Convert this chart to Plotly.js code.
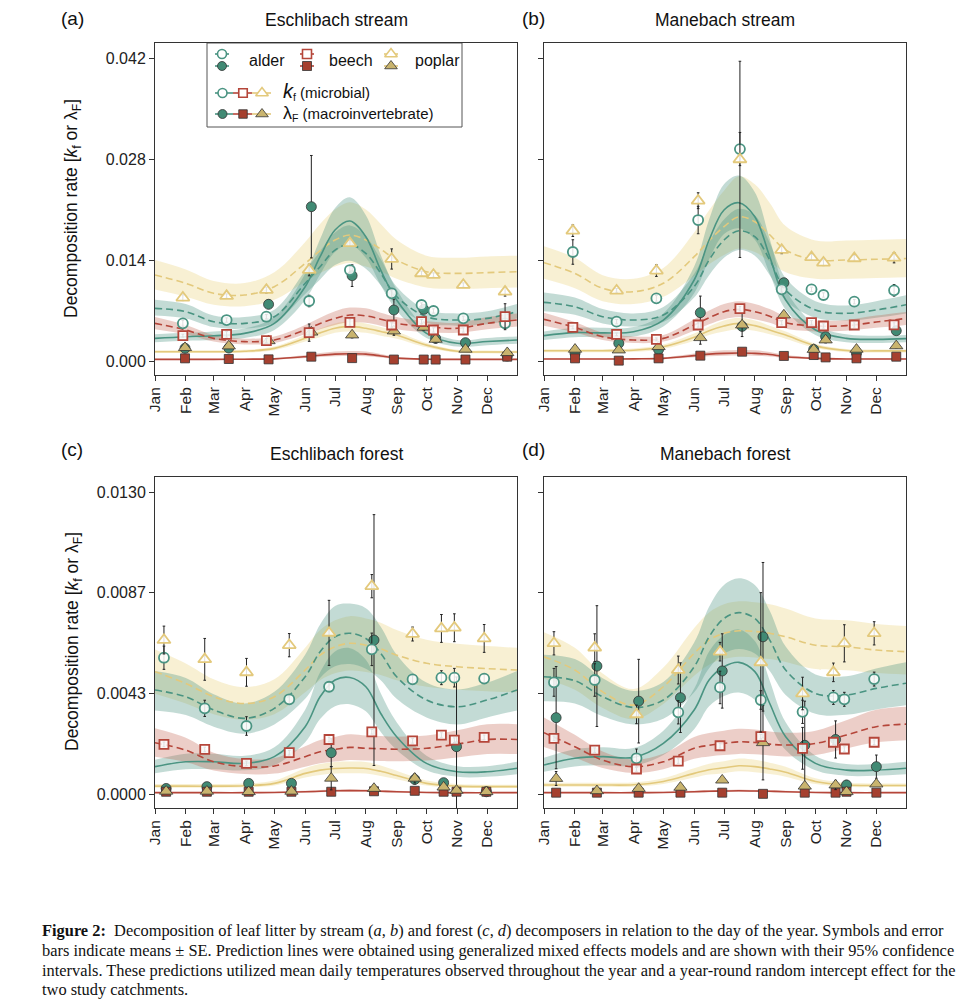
<!DOCTYPE html>
<html><head><meta charset="utf-8">
<script src="https://cdn.plot.ly/plotly-3.0.1.min.js"></script>
<style>html,body{margin:0;padding:0;background:#fff}#chart{width:967px;height:1000px}</style>
</head><body><div id="chart"></div>
<script>
// ---------- axis labels ----------
const MONTH_LABELS = ['Jan','Feb','Mar','Apr','May','Jun','Jul','Aug','Sep','Oct','Nov','Dec'];
const MONTH_DAYS = [1,32,60,91,121,152,182,213,244,274,305,335];
const STREAM_TICKS = [0,0.014,0.028,0.042];
const STREAM_TICK_TEXT = ['0.000','0.014','0.028','0.042'];
const FOREST_TICKS = [0,0.0043333,0.0086667,0.013];
const FOREST_TICK_TEXT = ['0.0000','0.0043','0.0087','0.0130'];
const PANEL_TITLES = ['Eschlibach stream','Manebach stream','Eschlibach forest','Manebach forest'];
const PANEL_TAGS = ['(a)','(b)','(c)','(d)'];

// ---------- prediction curve sample days ----------
const CURVE_DAYS = [1,32,60,91,121,152,167,182,197,213,228,244,274,305,335,365];

// ================= Panel (a) Eschlibach stream =================
const A_DAYS = [30,74,114,157,198,240,270,282,312,354];
const A_ALDER_KF = [0.00522,0.00568,0.00614,0.00832,0.01261,0.00938,0.00776,0.00693,0.00591,0.00522];
const A_ALDER_KF_SE = [0.0004,0.0003,0.0003,0.0008,0.0005,0.0005,0.0003,0.0003,0.0003,0.0004];
const A_ALDER_LF = [0.00176,0.0018,0.00786,0.02139,0.01183,0.00707,0.00716,0.00314,0.00254,0.00069];
const A_ALDER_LF_SE = [0.0003,0.0003,0.0006,0.0071,0.0015,0.0015,0.0004,0.0005,0.0003,0.0002];
const A_BEECH_KF = [0.00351,0.0037,0.00282,0.00393,0.00536,0.00499,0.00545,0.0043,0.0043,0.00614];
const A_BEECH_KF_SE = [0.0002,0.0004,0.0003,0.0012,0.0004,0.0003,0.0003,0.0003,0.0003,0.0018];
const A_BEECH_LF = [0.00037,0.00028,0.00023,0.0006,0.0004,0.0002,0.0002,0.0002,0.0002,0.0006];
const A_BEECH_LF_SE = [0.0001,0.0001,0.0001,0.0001,0.0001,0.0001,0.0001,0.0001,0.0001,0.0001];
const A_POPLAR_KF = [0.00878,0.009,0.00984,0.01261,0.01631,0.01414,0.01215,0.01192,0.01053,0.0096];
const A_POPLAR_KF_SE = [0.0004,0.0003,0.0004,0.0008,0.0004,0.0014,0.0003,0.0003,0.0003,0.0006];
const A_POPLAR_LF = [0.00185,0.00208,0.0028,0.004,0.0036,0.00416,0.00467,0.003,0.00162,0.00115];
const A_POPLAR_LF_SE = [0.0003,0.0003,0.0003,0.0006,0.0004,0.0006,0.0004,0.0005,0.0003,0.0003];

const A_FIT_ALDER_KF = [0.0073,0.00684,0.00545,0.00522,0.00614,0.01077,0.01307,0.01538,0.01617,0.01492,0.01215,0.00892,0.00614,0.00568,0.00591,0.00684];
const A_LO_ALDER_KF = [0.0063,0.0059,0.0047,0.0045,0.0053,0.0093,0.0113,0.0133,0.0139,0.0128,0.0105,0.0077,0.0053,0.0049,0.0051,0.0059];
const A_HI_ALDER_KF = [0.0085,0.0079,0.0063,0.0061,0.0071,0.0125,0.0152,0.0178,0.0188,0.0173,0.0141,0.0103,0.0071,0.0066,0.0069,0.0079];
const A_FIT_ALDER_LF = [0.00314,0.00337,0.0035,0.00383,0.00522,0.0103,0.01446,0.01816,0.0194,0.01723,0.0126,0.00845,0.00383,0.00245,0.0027,0.00291];
const A_LO_ALDER_LF = [0.0026,0.0028,0.0029,0.0032,0.0043,0.0085,0.012,0.0151,0.0161,0.0143,0.0105,0.007,0.0032,0.002,0.0022,0.0024];
const A_HI_ALDER_LF = [0.0037,0.0039,0.0041,0.0045,0.0061,0.0121,0.0169,0.0212,0.0227,0.0202,0.0147,0.0099,0.0045,0.0029,0.0032,0.0034];
const A_FIT_BEECH_KF = [0.00522,0.0043,0.00314,0.00268,0.00291,0.0043,0.0052,0.00591,0.00637,0.00625,0.0058,0.00522,0.00476,0.00453,0.00522,0.00568];
const A_LO_BEECH_KF = [0.0044,0.0037,0.0027,0.0023,0.0025,0.0037,0.0044,0.005,0.0054,0.0053,0.0049,0.0044,0.004,0.0039,0.0044,0.0048];
const A_HI_BEECH_KF = [0.0061,0.005,0.0036,0.0031,0.0034,0.005,0.006,0.0069,0.0074,0.0073,0.0067,0.0061,0.0055,0.0053,0.0061,0.0066];
const A_FIT_BEECH_LF = [0.00023,0.00023,0.00023,0.00025,0.0003,0.0006,0.0008,0.00095,0.001,0.00095,0.0007,0.0004,0.00025,0.00023,0.00023,0.00023];
const A_LO_BEECH_LF = [0.00016,0.00016,0.00016,0.00018,0.00021,0.00042,0.00056,0.00067,0.0007,0.00067,0.00049,0.00028,0.00018,0.00016,0.00016,0.00016];
const A_HI_BEECH_LF = [0.00032,0.00032,0.00032,0.00035,0.00042,0.00084,0.00112,0.00133,0.0014,0.00133,0.00098,0.00056,0.00035,0.00032,0.00032,0.00032];
const A_FIT_POPLAR_KF = [0.01192,0.01077,0.00938,0.00915,0.0103,0.01354,0.0153,0.01677,0.01746,0.01677,0.0155,0.014,0.01238,0.01215,0.01225,0.01238];
const A_LO_POPLAR_KF = [0.0099,0.0089,0.0078,0.0076,0.0085,0.011,0.0122,0.0131,0.0136,0.0131,0.0124,0.0114,0.0102,0.01,0.0101,0.0102];
const A_HI_POPLAR_KF = [0.014,0.0127,0.0111,0.0108,0.0123,0.0165,0.019,0.021,0.022,0.021,0.019,0.0168,0.0146,0.0143,0.0145,0.0146];
const A_FIT_POPLAR_LF = [0.00129,0.00129,0.00129,0.00135,0.00175,0.00314,0.0039,0.00453,0.0048,0.00453,0.0041,0.0036,0.0022,0.00135,0.00125,0.00125];
const A_LO_POPLAR_LF = [0.0011,0.0011,0.0011,0.00115,0.0015,0.0027,0.0033,0.0039,0.0041,0.0039,0.0035,0.0031,0.0019,0.00115,0.00106,0.00106];
const A_HI_POPLAR_LF = [0.0015,0.0015,0.0015,0.00155,0.002,0.0036,0.0045,0.0052,0.0055,0.0052,0.0047,0.0041,0.0025,0.00155,0.00144,0.00144];

// ================= Panel (b) Manebach stream =================
const B_DAYS = [31,75,115,157,199,241,271,283,314,354];
const B_ALDER_KF = [0.01511,0.00545,0.00869,0.01954,0.02938,0.00993,0.00993,0.00915,0.00822,0.0098];
const B_ALDER_KF_SE = [0.0017,0.0003,0.0004,0.0019,0.0023,0.0004,0.0003,0.0003,0.0003,0.0008];
const B_ALDER_LF = [0.00106,0.00245,0.0016,0.0067,0.0048,0.01085,0.0016,0.00337,0.0011,0.0042];
const B_ALDER_LF_SE = [0.0002,0.0003,0.0003,0.0023,0.0005,0.0005,0.0003,0.0004,0.0002,0.0003];
const B_BEECH_KF = [0.00467,0.0037,0.003,0.00499,0.00725,0.00531,0.00531,0.00485,0.00499,0.005];
const B_BEECH_KF_SE = [0.0002,0.0002,0.0002,0.0003,0.0003,0.0003,0.0003,0.0003,0.0003,0.0003];
const B_BEECH_LF = [0.00037,0.00005,0.00037,0.00074,0.00129,0.0007,0.00083,0.0005,0.00037,0.0006];
const B_BEECH_LF_SE = [0.0001,0.0001,0.0001,0.0001,0.0002,0.0001,0.0001,0.0001,0.0001,0.0001];
const B_POPLAR_KF = [0.01806,0.00975,0.01252,0.02222,0.02795,0.01538,0.01437,0.01363,0.01423,0.0143];
const B_POPLAR_KF_SE = [0.0008,0.0003,0.0008,0.0011,0.0136,0.0005,0.0004,0.0004,0.0004,0.0007];
const B_POPLAR_LF = [0.00162,0.00152,0.00198,0.00323,0.00499,0.00637,0.0016,0.00291,0.00162,0.0021];
const B_POPLAR_LF_SE = [0.0003,0.0003,0.0003,0.0009,0.0016,0.0005,0.0003,0.0004,0.0003,0.0003];

const B_FIT_ALDER_KF = [0.00813,0.00753,0.00614,0.00568,0.00637,0.0103,0.014,0.01677,0.01806,0.01723,0.014,0.00984,0.00707,0.00661,0.00707,0.0078];
const B_LO_ALDER_KF = [0.0069,0.0064,0.0052,0.0048,0.0054,0.0088,0.0119,0.0143,0.0154,0.0146,0.0119,0.0084,0.006,0.0056,0.006,0.0066];
const B_HI_ALDER_KF = [0.0095,0.0088,0.0072,0.0066,0.0075,0.0121,0.0164,0.0196,0.0211,0.0202,0.0164,0.0115,0.0083,0.0077,0.0083,0.0091];
const B_FIT_ALDER_LF = [0.00351,0.00393,0.0039,0.00406,0.00568,0.01123,0.01677,0.02093,0.02194,0.02,0.01446,0.00845,0.0043,0.00314,0.003,0.0031];
const B_LO_ALDER_LF = [0.0029,0.0033,0.0033,0.0034,0.0048,0.0094,0.0141,0.0176,0.0184,0.0168,0.0121,0.0071,0.0036,0.0026,0.0025,0.0026];
const B_HI_ALDER_LF = [0.0041,0.0046,0.0046,0.0047,0.0066,0.0131,0.0196,0.0245,0.0257,0.0234,0.0169,0.0099,0.005,0.0037,0.0035,0.0036];
const B_FIT_BEECH_KF = [0.00578,0.00467,0.00337,0.00291,0.00314,0.00499,0.006,0.00684,0.00716,0.00684,0.0062,0.00531,0.00485,0.0049,0.0054,0.0059];
const B_LO_BEECH_KF = [0.0049,0.004,0.0029,0.0025,0.0027,0.0042,0.0051,0.0058,0.0061,0.0058,0.0053,0.0045,0.0041,0.0042,0.0046,0.005];
const B_HI_BEECH_KF = [0.0067,0.0054,0.0039,0.0034,0.0036,0.0058,0.007,0.0079,0.0083,0.0079,0.0072,0.0062,0.0056,0.0057,0.0063,0.0068];
const B_FIT_BEECH_LF = [0.00028,0.00028,0.00028,0.0003,0.00037,0.00074,0.00095,0.00106,0.0011,0.00106,0.0009,0.0006,0.00037,0.00028,0.00028,0.00028];
const B_LO_BEECH_LF = [0.0002,0.0002,0.0002,0.00021,0.00026,0.00052,0.00067,0.00074,0.00077,0.00074,0.00063,0.00042,0.00026,0.0002,0.0002,0.0002];
const B_HI_BEECH_LF = [0.00039,0.00039,0.00039,0.00042,0.00052,0.00104,0.00133,0.00148,0.00154,0.00148,0.00126,0.00084,0.00052,0.00039,0.00039,0.00039];
const B_FIT_POPLAR_KF = [0.01363,0.01215,0.01007,0.0096,0.01077,0.01446,0.0167,0.01862,0.02,0.0193,0.0175,0.01538,0.014,0.014,0.0141,0.0142];
const B_LO_POPLAR_KF = [0.0114,0.0101,0.0083,0.0079,0.0089,0.0118,0.0134,0.0147,0.0156,0.0151,0.0138,0.0123,0.0114,0.0114,0.0115,0.0116];
const B_HI_POPLAR_KF = [0.0159,0.0143,0.0119,0.0114,0.0129,0.0178,0.0209,0.0236,0.0256,0.0245,0.0219,0.0187,0.0167,0.0167,0.0168,0.0169];
const B_FIT_POPLAR_LF = [0.00143,0.00143,0.00143,0.0015,0.00198,0.0033,0.0042,0.00485,0.00522,0.0049,0.0043,0.0036,0.0021,0.00145,0.0014,0.0014];
const B_LO_POPLAR_LF = [0.00122,0.00122,0.00122,0.00128,0.00168,0.0028,0.0036,0.0041,0.0044,0.0042,0.0037,0.0031,0.0018,0.00123,0.00119,0.00119];
const B_HI_POPLAR_LF = [0.00164,0.00164,0.00164,0.00173,0.00228,0.0038,0.0048,0.0056,0.006,0.0056,0.0049,0.0041,0.0024,0.00167,0.00161,0.00161];

// ================= Panel (c) Eschlibach forest =================
const C_DAYS = [11,52,94,137,177,220,261,290,303,333];
const C_ALDER_KF = [0.00587,0.00369,0.00293,0.00408,0.00462,0.00623,0.00494,0.00501,0.00501,0.00497];
const C_ALDER_KF_SE = [0.0005,0.00035,0.0004,0.0002,0.0002,0.0007,0.0002,0.0003,0.0004,0.0002];
const C_ALDER_LF = [0.00024,0.00032,0.00046,0.00046,0.00178,0.00663,0.00063,0.00049,0.00204,0.0001];
const C_ALDER_LF_SE = [0.0001,0.0001,0.0001,0.0001,0.0006,0.0054,0.0002,0.0001,0.003,0.00005];
const C_BEECH_KF = [0.00214,0.00192,0.00132,0.00178,0.00235,0.00268,0.00229,0.00254,0.00232,0.00244];
const C_BEECH_KF_SE = [0.0001,0.0001,0.0001,0.0001,0.0001,0.0001,0.0001,0.0001,0.0001,0.0001];
const C_BEECH_LF = [0.0001,0.0001,0.0001,0.0001,0.0001,0.00012,0.00014,0.0001,0.0001,0.0001];
const C_BEECH_LF_SE = [0.00003,0.00003,0.00003,0.00003,0.00003,0.00003,0.00003,0.00003,0.00003,0.00003];
const C_POPLAR_KF = [0.00663,0.0058,0.00524,0.00641,0.00694,0.00895,0.00689,0.00713,0.00716,0.0067];
const C_POPLAR_KF_SE = [0.0006,0.0009,0.0006,0.0005,0.0014,0.0005,0.0003,0.0006,0.0006,0.0006];
const C_POPLAR_LF = [0.00012,0.00012,0.0001,0.00012,0.00068,0.00024,0.00068,0.0003,0.00016,0.0001];
const C_POPLAR_LF_SE = [0.00005,0.00005,0.00005,0.00005,0.0005,0.00005,0.0002,0.0001,0.00005,0.00005];

const C_FIT_ALDER_KF = [0.00448,0.00419,0.00362,0.00326,0.00369,0.00505,0.00613,0.00677,0.00692,0.0067,0.00606,0.00505,0.00405,0.00376,0.00405,0.00448];
const C_LO_ALDER_KF = [0.0036,0.0034,0.0029,0.0026,0.003,0.0041,0.005,0.0055,0.0056,0.0054,0.0049,0.0041,0.0033,0.003,0.0033,0.0036];
const C_HI_ALDER_KF = [0.0053,0.005,0.0043,0.0039,0.0044,0.006,0.0073,0.0081,0.0082,0.008,0.0072,0.006,0.0048,0.0045,0.0048,0.0053];
const C_FIT_ALDER_LF = [0.00118,0.00139,0.00139,0.00132,0.00161,0.0029,0.00419,0.00491,0.00502,0.00462,0.00347,0.00247,0.00132,0.00096,0.00096,0.00111];
const C_LO_ALDER_LF = [0.0009,0.00107,0.00107,0.00102,0.00124,0.00223,0.00323,0.00378,0.00387,0.00356,0.00267,0.0019,0.00102,0.00074,0.00074,0.00085];
const C_HI_ALDER_LF = [0.00148,0.00174,0.00174,0.00165,0.00201,0.00363,0.00524,0.00614,0.00628,0.00578,0.00434,0.00309,0.00165,0.0012,0.0012,0.00139];
const C_FIT_BEECH_KF = [0.00221,0.00189,0.00139,0.00118,0.00121,0.00161,0.00182,0.00192,0.00201,0.00197,0.00195,0.00193,0.00197,0.00215,0.00235,0.00235];
const C_LO_BEECH_KF = [0.00161,0.00138,0.00101,0.00086,0.00088,0.00118,0.00133,0.0014,0.00147,0.00144,0.00142,0.00141,0.00144,0.00157,0.00172,0.00172];
const C_HI_BEECH_KF = [0.00283,0.00242,0.00178,0.00151,0.00155,0.00206,0.00233,0.00246,0.00257,0.00252,0.0025,0.00247,0.00252,0.00275,0.00301,0.00301];
const C_FIT_BEECH_LF = [0.00006,0.00006,0.00006,0.00006,0.00007,0.0001,0.00012,0.00014,0.00015,0.00014,0.00012,0.0001,0.00007,0.00006,0.00006,0.00006];
const C_LO_BEECH_LF = [0.00004,0.00004,0.00004,0.00004,0.00005,0.00007,0.00008,0.0001,0.0001,0.0001,0.00008,0.00007,0.00005,0.00004,0.00004,0.00004];
const C_HI_BEECH_LF = [0.00008,0.00008,0.00008,0.00008,0.0001,0.00014,0.00017,0.0002,0.00021,0.0002,0.00017,0.00014,0.0001,0.00008,0.00008,0.00008];
const C_FIT_POPLAR_KF = [0.00527,0.00476,0.00419,0.0039,0.00419,0.00534,0.00598,0.00634,0.00649,0.00641,0.00625,0.00598,0.00563,0.00548,0.0054,0.00534];
const C_LO_POPLAR_KF = [0.00432,0.0039,0.00344,0.0032,0.00344,0.00438,0.0049,0.0052,0.00532,0.00526,0.00513,0.0049,0.00462,0.00449,0.00443,0.00438];
const C_HI_POPLAR_KF = [0.00622,0.00562,0.00494,0.0046,0.00494,0.0063,0.00706,0.00748,0.00766,0.00756,0.00738,0.00706,0.00664,0.00647,0.00637,0.0063];
const C_FIT_POPLAR_LF = [0.00034,0.00034,0.00034,0.00036,0.00046,0.00089,0.00103,0.0011,0.00112,0.0011,0.00098,0.0008,0.00046,0.00034,0.00032,0.00032];
const C_LO_POPLAR_LF = [0.00027,0.00027,0.00027,0.00029,0.00037,0.00071,0.00082,0.00088,0.0009,0.00088,0.00078,0.00064,0.00037,0.00027,0.00026,0.00026];
const C_HI_POPLAR_LF = [0.00043,0.00043,0.00043,0.00045,0.00058,0.00111,0.00129,0.00138,0.0014,0.00138,0.00123,0.001,0.00058,0.00043,0.0004,0.0004];

// ================= Panel (d) Manebach forest =================
const D_DAYS = [12,53,95,137,179,220,262,293,304,334];
const D_ALDER_KF = [0.00481,0.00491,0.00154,0.00352,0.00459,0.00405,0.00354,0.00416,0.00408,0.00495];
const D_ALDER_KF_SE = [0.0006,0.0007,0.0004,0.0005,0.0007,0.0004,0.0005,0.0003,0.0003,0.0003];
const D_ALDER_LF = [0.00329,0.00551,0.004,0.00415,0.0053,0.00677,0.0021,0.00235,0.00039,0.00118];
const D_ALDER_LF_SE = [0.0022,0.0026,0.0018,0.0015,0.0016,0.0032,0.0019,0.0008,0.0002,0.0005];
const D_BEECH_KF = [0.0024,0.00189,0.00108,0.00142,0.00208,0.00247,0.00197,0.00223,0.00194,0.00223];
const D_BEECH_KF_SE = [0.0001,0.0001,0.0001,0.0001,0.0001,0.0001,0.0009,0.0001,0.0001,0.0001];
const D_BEECH_LF = [0.00006,0.00006,0.00006,0.00006,0.00006,0.00001,0.00006,0.00006,0.0001,0.00006];
const D_BEECH_LF_SE = [0.00003,0.00003,0.00003,0.00003,0.00003,0.00003,0.00003,0.00003,0.00003,0.00003];
const D_POPLAR_KF = [0.00649,0.0063,0.00343,0.00534,0.00613,0.00567,0.00433,0.00524,0.00649,0.00692];
const D_POPLAR_KF_SE = [0.0005,0.0006,0.0004,0.0006,0.0004,0.003,0.0007,0.0004,0.0008,0.0005];
const D_POPLAR_LF = [0.00067,0.00014,0.00024,0.00029,0.0006,0.00221,0.00034,0.00039,0.0001,0.00043];
const D_POPLAR_LF_SE = [0.0003,0.0001,0.0001,0.0001,0.0001,0.0016,0.0001,0.0002,0.00005,0.0001];

const D_FIT_ALDER_KF = [0.00505,0.00488,0.00419,0.00373,0.00405,0.00548,0.00677,0.00756,0.00781,0.00756,0.00663,0.00534,0.00433,0.00426,0.00455,0.00477];
const D_LO_ALDER_KF = [0.004,0.0039,0.00335,0.003,0.00324,0.00438,0.00542,0.00605,0.00625,0.00605,0.0053,0.00427,0.00346,0.00341,0.00364,0.00382];
const D_HI_ALDER_KF = [0.006,0.00581,0.00499,0.00444,0.00482,0.00652,0.00806,0.009,0.00929,0.009,0.00789,0.00635,0.00515,0.00507,0.00541,0.00568];
const D_FIT_ALDER_LF = [0.00125,0.00154,0.00161,0.00158,0.00218,0.00362,0.00491,0.00548,0.00567,0.00527,0.0039,0.00247,0.00132,0.00103,0.00103,0.00111];
const D_LO_ALDER_LF = [0.00096,0.00119,0.00124,0.00122,0.00168,0.00279,0.00378,0.00422,0.00437,0.00406,0.003,0.0019,0.00102,0.00079,0.00079,0.00085];
const D_HI_ALDER_LF = [0.00156,0.00193,0.00201,0.00198,0.00273,0.00453,0.00614,0.00685,0.00709,0.00659,0.00488,0.00309,0.00165,0.00129,0.00129,0.00139];
const D_FIT_BEECH_KF = [0.00264,0.00204,0.00146,0.00118,0.00139,0.00197,0.0021,0.00218,0.00225,0.00222,0.00215,0.00211,0.00218,0.00254,0.0029,0.00301];
const D_LO_BEECH_KF = [0.00203,0.00157,0.00112,0.00091,0.00107,0.00152,0.00162,0.00168,0.00173,0.00171,0.00166,0.00162,0.00168,0.00196,0.00223,0.00232];
const D_HI_BEECH_KF = [0.0033,0.00255,0.00183,0.00148,0.00174,0.00246,0.00263,0.00273,0.00281,0.00278,0.00269,0.00264,0.00273,0.00318,0.00363,0.00376];
const D_FIT_BEECH_LF = [0.00006,0.00006,0.00006,0.00006,0.00007,0.0001,0.00012,0.00013,0.00014,0.00013,0.00012,0.0001,0.00007,0.00006,0.00006,0.00006];
const D_LO_BEECH_LF = [0.00004,0.00004,0.00004,0.00004,0.00005,0.00007,0.00008,0.00009,0.0001,0.00009,0.00008,0.00007,0.00005,0.00004,0.00004,0.00004];
const D_HI_BEECH_LF = [0.00008,0.00008,0.00008,0.00008,0.0001,0.00014,0.00017,0.00018,0.0002,0.00018,0.00017,0.00014,0.0001,0.00008,0.00008,0.00008];
const D_FIT_POPLAR_KF = [0.00591,0.00534,0.0044,0.00383,0.00462,0.00606,0.00663,0.00692,0.00703,0.007,0.00692,0.00677,0.00641,0.00634,0.0062,0.00613];
const D_LO_POPLAR_KF = [0.00496,0.00449,0.0037,0.00322,0.00388,0.00509,0.00557,0.00581,0.00591,0.00588,0.00581,0.00569,0.00538,0.00533,0.00521,0.00515];
const D_HI_POPLAR_KF = [0.00697,0.0063,0.00519,0.00452,0.00545,0.00715,0.00782,0.00817,0.0083,0.00826,0.00817,0.00799,0.00756,0.00748,0.00732,0.00723];
const D_FIT_POPLAR_LF = [0.00039,0.00039,0.00039,0.0004,0.00054,0.00089,0.00105,0.00113,0.00122,0.00118,0.00108,0.00094,0.00054,0.00039,0.00037,0.00037];
const D_LO_POPLAR_LF = [0.00031,0.00031,0.00031,0.00032,0.00043,0.00071,0.00084,0.0009,0.00098,0.00094,0.00086,0.00075,0.00043,0.00031,0.0003,0.0003];
const D_HI_POPLAR_LF = [0.00049,0.00049,0.00049,0.0005,0.00068,0.00111,0.00131,0.00141,0.00153,0.00148,0.00135,0.00118,0.00068,0.00049,0.00046,0.00046];

// ---------- caption ----------
const CAPTION_LINES = [
  '<b>Figure 2:</b>  Decomposition of leaf litter by stream (<i>a</i>, <i>b</i>) and forest (<i>c</i>, <i>d</i>) decomposers in relation to the day of the year. Symbols and error',
  'bars indicate means ± SE. Prediction lines were obtained using generalized mixed effects models and are shown with their 95% confidence',
  'intervals. These predictions utilized mean daily temperatures observed throughout the year and a year-round random intercept effect for the',
  'two study catchments.'
];
</script>
<script>
// ================= styling =================
const W = 967, H = 1000;
const px = x => x / W, py = y => 1 - y / H;
const SPECIES = ['alder','beech','poplar'];
const LINE_COL = {alder:'#4a9482', beech:'#b5463a', poplar:'#e3c97c'};
const FILL_COL = {alder:'#418a74', beech:'#a6402f', poplar:'#c9b46e'};
const BAND_COL = {alder:'rgba(74,146,128,0.33)', beech:'rgba(192,92,72,0.30)', poplar:'rgba(234,208,122,0.33)'};
const SYM = {alder:'circle', beech:'square', poplar:'triangle-up'};
const MSIZE = {alder:10, beech:9, poplar:11.5};
const SANS = 'Liberation Sans, Arial, sans-serif';

const PANELS = [
  {P:'A', xa:'x',  ya:'y',  days:A_DAYS},
  {P:'B', xa:'x2', ya:'y2', days:B_DAYS},
  {P:'C', xa:'x3', ya:'y3', days:C_DAYS},
  {P:'D', xa:'x4', ya:'y4', days:D_DAYS}
];
const PTS = {
  A:{alder:{kf:[A_ALDER_KF,A_ALDER_KF_SE],lf:[A_ALDER_LF,A_ALDER_LF_SE]},beech:{kf:[A_BEECH_KF,A_BEECH_KF_SE],lf:[A_BEECH_LF,A_BEECH_LF_SE]},poplar:{kf:[A_POPLAR_KF,A_POPLAR_KF_SE],lf:[A_POPLAR_LF,A_POPLAR_LF_SE]}},
  B:{alder:{kf:[B_ALDER_KF,B_ALDER_KF_SE],lf:[B_ALDER_LF,B_ALDER_LF_SE]},beech:{kf:[B_BEECH_KF,B_BEECH_KF_SE],lf:[B_BEECH_LF,B_BEECH_LF_SE]},poplar:{kf:[B_POPLAR_KF,B_POPLAR_KF_SE],lf:[B_POPLAR_LF,B_POPLAR_LF_SE]}},
  C:{alder:{kf:[C_ALDER_KF,C_ALDER_KF_SE],lf:[C_ALDER_LF,C_ALDER_LF_SE]},beech:{kf:[C_BEECH_KF,C_BEECH_KF_SE],lf:[C_BEECH_LF,C_BEECH_LF_SE]},poplar:{kf:[C_POPLAR_KF,C_POPLAR_KF_SE],lf:[C_POPLAR_LF,C_POPLAR_LF_SE]}},
  D:{alder:{kf:[D_ALDER_KF,D_ALDER_KF_SE],lf:[D_ALDER_LF,D_ALDER_LF_SE]},beech:{kf:[D_BEECH_KF,D_BEECH_KF_SE],lf:[D_BEECH_LF,D_BEECH_LF_SE]},poplar:{kf:[D_POPLAR_KF,D_POPLAR_KF_SE],lf:[D_POPLAR_LF,D_POPLAR_LF_SE]}}
};
const FITS = {
  A:{alder:{kf:[A_FIT_ALDER_KF,A_LO_ALDER_KF,A_HI_ALDER_KF],lf:[A_FIT_ALDER_LF,A_LO_ALDER_LF,A_HI_ALDER_LF]},beech:{kf:[A_FIT_BEECH_KF,A_LO_BEECH_KF,A_HI_BEECH_KF],lf:[A_FIT_BEECH_LF,A_LO_BEECH_LF,A_HI_BEECH_LF]},poplar:{kf:[A_FIT_POPLAR_KF,A_LO_POPLAR_KF,A_HI_POPLAR_KF],lf:[A_FIT_POPLAR_LF,A_LO_POPLAR_LF,A_HI_POPLAR_LF]}},
  B:{alder:{kf:[B_FIT_ALDER_KF,B_LO_ALDER_KF,B_HI_ALDER_KF],lf:[B_FIT_ALDER_LF,B_LO_ALDER_LF,B_HI_ALDER_LF]},beech:{kf:[B_FIT_BEECH_KF,B_LO_BEECH_KF,B_HI_BEECH_KF],lf:[B_FIT_BEECH_LF,B_LO_BEECH_LF,B_HI_BEECH_LF]},poplar:{kf:[B_FIT_POPLAR_KF,B_LO_POPLAR_KF,B_HI_POPLAR_KF],lf:[B_FIT_POPLAR_LF,B_LO_POPLAR_LF,B_HI_POPLAR_LF]}},
  C:{alder:{kf:[C_FIT_ALDER_KF,C_LO_ALDER_KF,C_HI_ALDER_KF],lf:[C_FIT_ALDER_LF,C_LO_ALDER_LF,C_HI_ALDER_LF]},beech:{kf:[C_FIT_BEECH_KF,C_LO_BEECH_KF,C_HI_BEECH_KF],lf:[C_FIT_BEECH_LF,C_LO_BEECH_LF,C_HI_BEECH_LF]},poplar:{kf:[C_FIT_POPLAR_KF,C_LO_POPLAR_KF,C_HI_POPLAR_KF],lf:[C_FIT_POPLAR_LF,C_LO_POPLAR_LF,C_HI_POPLAR_LF]}},
  D:{alder:{kf:[D_FIT_ALDER_KF,D_LO_ALDER_KF,D_HI_ALDER_KF],lf:[D_FIT_ALDER_LF,D_LO_ALDER_LF,D_HI_ALDER_LF]},beech:{kf:[D_FIT_BEECH_KF,D_LO_BEECH_KF,D_HI_BEECH_KF],lf:[D_FIT_BEECH_LF,D_LO_BEECH_LF,D_HI_BEECH_LF]},poplar:{kf:[D_FIT_POPLAR_KF,D_LO_POPLAR_KF,D_HI_POPLAR_KF],lf:[D_FIT_POPLAR_LF,D_LO_POPLAR_LF,D_HI_POPLAR_LF]}}
};

const traces = [];
PANELS.forEach(pn => {
  const F = FITS[pn.P], Pt = PTS[pn.P];
  // confidence bands
  ['poplar','alder','beech'].forEach(s => {
    ['kf','lf'].forEach(t => {
      const [fit, lo, hi] = F[s][t];
      traces.push({x:CURVE_DAYS, y:lo, xaxis:pn.xa, yaxis:pn.ya, mode:'lines', line:{width:0, shape:'spline', color:'rgba(0,0,0,0)'}, hoverinfo:'skip'});
      traces.push({x:CURVE_DAYS, y:hi, xaxis:pn.xa, yaxis:pn.ya, mode:'lines', fill:'tonexty', fillcolor:BAND_COL[s], line:{width:0, shape:'spline', color:'rgba(0,0,0,0)'}, hoverinfo:'skip'});
    });
  });
  // prediction lines
  ['poplar','alder','beech'].forEach(s => {
    ['kf','lf'].forEach(t => {
      const fit = F[s][t][0];
      traces.push({x:CURVE_DAYS, y:fit, xaxis:pn.xa, yaxis:pn.ya, mode:'lines',
        line:{color:LINE_COL[s], width:1.6, shape:'spline', dash: t==='kf' ? '7px,4px' : 'solid'}, hoverinfo:'skip'});
    });
  });
  // observed means with SE
  ['lf','kf'].forEach(t => {
    SPECIES.forEach(s => {
      const [v, se] = Pt[s][t];
      const off = t==='kf' ? -1 : 1.2;
      traces.push({x:pn.days.map(d => d + off), y:v, xaxis:pn.xa, yaxis:pn.ya, mode:'markers', cliponaxis:false,
        error_y:{type:'data', array:se, visible:true, color:'#222', thickness:1, width:1.3},
        marker:{symbol:SYM[s], size:MSIZE[s],
          color: t==='kf' ? 'rgba(255,255,255,0.85)' : FILL_COL[s],
          line:{color: t==='kf' ? LINE_COL[s] : '#333', width: t==='kf' ? 1.8 : 0.8}}});
    });
  });
});

// ---------- legend glyphs (overlay axis in pixel coords) ----------
const LEG = {xaxis:'x5', yaxis:'y5', hoverinfo:'skip', cliponaxis:false};
function legLine(x0,x1,y,c){ traces.push(Object.assign({x:[x0,x1], y:[y,y], mode:'lines', line:{color:c, width:1.6}}, LEG)); }
function legMark(x,y,s,open,size){ traces.push(Object.assign({x:[x], y:[y], mode:'markers',
  marker:{symbol:SYM[s], size:size, color: open ? '#fff' : FILL_COL[s], line:{color: open ? LINE_COL[s] : '#333', width: open ? 1.6 : 0.8}}}, LEG)); }
[['alder',222],['beech',307],['poplar',391]].forEach(([s,x]) => {
  legLine(x-7, x+7, 54, LINE_COL[s]); legLine(x-7, x+7, 66, LINE_COL[s]);
  legMark(x, 54, s, true, s==='poplar'?11:9); legMark(x, 66, s, false, s==='poplar'?11:9);
});
[[93,true],[114,false]].forEach(([y,open]) => {
  legLine(215,233,y,LINE_COL.alder); legLine(233,252,y,LINE_COL.beech); legLine(252,271,y,LINE_COL.poplar);
  legMark(222.5,y,'alder',open,9); legMark(243,y,'beech',open,8.5); legMark(262,y,'poplar',open,11);
});

// ---------- layout ----------
const XDOM = [[px(155),px(517)],[px(544),px(906)]];
const YDOM = [[py(375),py(43)],[py(808),py(477)]];
function xax(dom, anchor){ return {domain:dom, anchor:anchor, range:[1,365], tickvals:MONTH_DAYS, ticktext:MONTH_LABELS, tickangle:-90,
  ticks:'outside', ticklen:5, tickwidth:1, tickcolor:'#333', showline:true, mirror:true, linecolor:'#333', linewidth:1,
  showgrid:false, zeroline:false, tickfont:{family:SANS, size:15.5, color:'#222'}, fixedrange:true}; }
function yax(dom, anchor, rng, tv, tt, lab){ return {domain:dom, anchor:anchor, range:rng, tickvals:tv, ticktext:tt, showticklabels:lab,
  ticks:'outside', ticklen:5, tickwidth:1, tickcolor:'#333', showline:true, mirror:true, linecolor:'#333', linewidth:1,
  showgrid:false, zeroline:false, tickfont:{family:SANS, size:16, color:'#222'}, fixedrange:true}; }
const SR = [-0.00194, 0.04408], FR = [-0.0006, 0.01365];

const ann = [];
const centers = [[336,20],[725,20],[336,454],[725,454]];
PANEL_TITLES.forEach((t,i) => ann.push({text:t, x:px(centers[i][0]), y:py(centers[i][1]), xref:'paper', yref:'paper', showarrow:false, xanchor:'center', yanchor:'middle', font:{family:SANS, size:17.5, color:'#111'}}));
const tagPos = [[72,18],[533,18],[72,450],[533,450]];
PANEL_TAGS.forEach((t,i) => ann.push({text:t, x:px(tagPos[i][0]), y:py(tagPos[i][1]), xref:'paper', yref:'paper', showarrow:false, xanchor:'center', yanchor:'middle', font:{family:SANS, size:19, color:'#111'}}));
const YTITLE = 'Decomposition rate [<i>k</i><sub>f</sub> or λ<sub>F</sub>]';
[209, 642].forEach(yc => ann.push({text:YTITLE, x:px(73), y:py(yc), xref:'paper', yref:'paper', showarrow:false, textangle:-90, xanchor:'center', yanchor:'middle', font:{family:SANS, size:17.5, color:'#111'}}));
// legend texts
[['alder',247],['beech',327],['poplar',413]].forEach(([t,x]) => ann.push({text:t, x:px(x), y:py(60), xref:'paper', yref:'paper', showarrow:false, xanchor:'left', yanchor:'middle', font:{family:SANS, size:16, color:'#111'}}));
ann.push({text:'<span style="font-size:20px"><i>k</i></span><sub>f</sub> (microbial)', x:px(281), y:py(92), xref:'paper', yref:'paper', showarrow:false, xanchor:'left', yanchor:'middle', font:{family:SANS, size:15, color:'#111'}});
ann.push({text:'<span style="font-size:18px">λ</span><sub>F</sub> (macroinvertebrate)', x:px(281), y:py(114), xref:'paper', yref:'paper', showarrow:false, xanchor:'left', yanchor:'middle', font:{family:SANS, size:15, color:'#111'}});
// caption, one annotation per line
const CAP_Y = [930, 950, 970, 989];
CAPTION_LINES.forEach((t,i) => ann.push({text:t, x:px(40), y:py(CAP_Y[i]), xref:'paper', yref:'paper', showarrow:false, xanchor:'left', yanchor:'middle', align:'left', font:{family:'Liberation Serif, Times New Roman, serif', size:16.4, color:'#111'}}));

const layout = {
  width:W, height:H, margin:{l:0,r:0,t:0,b:0}, paper_bgcolor:'#fff', plot_bgcolor:'rgba(0,0,0,0)', showlegend:false,
  xaxis: xax(XDOM[0],'y'), yaxis: yax(YDOM[0],'x',SR,STREAM_TICKS,STREAM_TICK_TEXT,true),
  xaxis2: xax(XDOM[1],'y2'), yaxis2: yax(YDOM[0],'x2',SR,STREAM_TICKS,STREAM_TICK_TEXT,false),
  xaxis3: xax(XDOM[0],'y3'), yaxis3: yax(YDOM[1],'x3',FR,FOREST_TICKS,FOREST_TICK_TEXT,true),
  xaxis4: xax(XDOM[1],'y4'), yaxis4: yax(YDOM[1],'x4',FR,FOREST_TICKS,FOREST_TICK_TEXT,false),
  xaxis5: {domain:[0,1], anchor:'y5', range:[0,W], visible:false, fixedrange:true},
  yaxis5: {domain:[0,1], anchor:'x5', range:[H,0], visible:false, fixedrange:true},
  shapes:[{type:'rect', xref:'paper', yref:'paper', x0:px(207), x1:px(462), y0:py(127), y1:py(43), line:{color:'#555', width:1}, fillcolor:'#fff', layer:'below'}],
  annotations: ann
};
Plotly.newPlot('chart', traces, layout, {displayModeBar:false, staticPlot:true});
</script>
</body></html>
